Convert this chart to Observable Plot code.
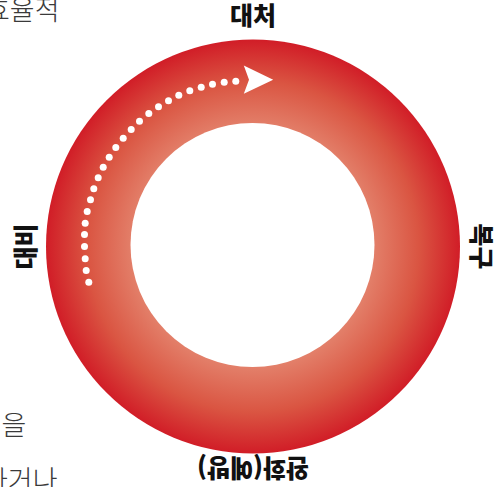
<!DOCTYPE html>
<html><head><meta charset="utf-8">
<script src="https://cdn.jsdelivr.net/npm/d3@7"></script>
<script src="https://cdn.jsdelivr.net/npm/@observablehq/plot@0.6"></script>
<style>
html,body{margin:0;padding:0;background:#fff;overflow:hidden}
#chart svg{display:block}
</style>
</head><body><div id="chart"></div>
<script>
// Stage labels around the cycle (angle clockwise from top, degrees)
const stageLabels = ["대처", "복구", "완화(예방)", "대비"];
const stageAngles = [0, 90, 180, 270];

// Dotted arrow along the ring
const dotX = [88.3, 85.7, 84.7, 84, 84, 84.7, 86.7, 90, 93.3, 97.7, 102.7, 108.7, 115.3, 122.7, 130.7, 139, 148.3, 158, 168, 178.3, 189.3, 200.7, 212, 223.7, 235.3];
const dotY = [281.7, 270, 258.3, 246, 234, 222.7, 211, 199.3, 188.3, 177.3, 166.7, 156.7, 147, 137.7, 129, 120.7, 113, 106.3, 100.3, 94.7, 90.3, 86.7, 83.7, 81.7, 80.7];

// Arrowhead outline
const headX = [243.3, 272.7, 243.3, 248.5];
const headY = [65, 79.3, 93.3, 79.3];

// Partial body text cut by the frame
const sideTexts = ["효율적", "을", "하거나"];

// ---- layout ----
const W = 499, H = 487;
const cx = 252.5, cy = 246, R = 207, r0 = 122;
const labelGap = [230, 227, 220, 226];

const labels = stageLabels.map((t, i) => {
  const a = stageAngles[i] * Math.PI / 180;
  return {t, x: cx + labelGap[i] * Math.sin(a), y: cy - labelGap[i] * Math.cos(a), rot: stageAngles[i]};
});
const dots = dotX.map((x, i) => ({x, y: dotY[i]}));
const head = headX.map((x, i) => ({x, y: headY[i]}));
const side = [
  {t: sideTexts[0], x: 59, y: 11, anchor: "end"},
  {t: sideTexts[1], x: 1, y: 426, anchor: "start"},
  {t: sideTexts[2], x: 57, y: 481, anchor: "end"}
];
const sideFont = {fontSize: 27, fontWeight: 300, fontFamily: "'Noto Sans CJK KR', sans-serif", fill: "#3a3a3a"};

const chart = Plot.plot({
  width: W, height: H, margin: 0,
  x: {domain: [0, W], range: [0, W], axis: null},
  y: {domain: [0, H], range: [0, H], axis: null},
  marks: [
    Plot.dot([{x: cx, y: cy}], {x: "x", y: "y", r: R, fill: "url(#ringGrad)", stroke: "none"}),
    Plot.dot([{x: cx - 0.5, y: cy - 1.5}], {x: "x", y: "y", r: r0, fill: "white", stroke: "none"}),
    Plot.dot(dots, {x: "x", y: "y", r: 3.5, fill: "white", stroke: "none"}),
    Plot.line(head, {x: "x", y: "y", fill: "white", stroke: "none", curve: "linear"}),
    Plot.text(labels, {x: "x", y: "y", text: "t", rotate: "rot", fontSize: 25, fontWeight: 900,
      fontFamily: "'Noto Sans CJK KR', 'Noto Sans', sans-serif", fill: "#111"}),
    Plot.text(side, {x: "x", y: "y", text: "t", textAnchor: "end", ...sideFont, filter: d => d.anchor === "end"}),
    Plot.text(side, {x: "x", y: "y", text: "t", textAnchor: "start", ...sideFont, filter: d => d.anchor === "start"})
  ]
});

const ns = "http://www.w3.org/2000/svg";
const defs = document.createElementNS(ns, "defs");
defs.innerHTML = `<radialGradient id="ringGrad" gradientUnits="userSpaceOnUse" cx="${cx}" cy="${cy}" r="${R}">
  <stop offset="0.58" stop-color="#e3806a"/>
  <stop offset="0.80" stop-color="#da5542"/>
  <stop offset="1" stop-color="#d11d27"/>
</radialGradient>`;
chart.prepend(defs);
document.getElementById("chart").appendChild(chart);
</script>
</body></html>
